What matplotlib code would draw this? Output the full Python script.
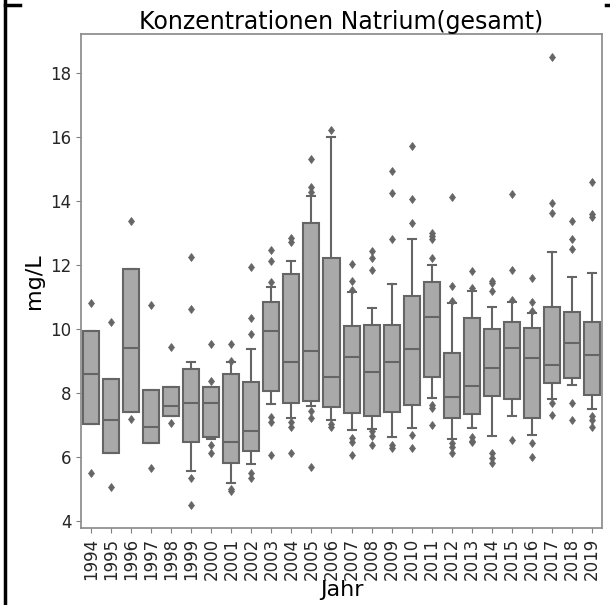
import matplotlib
matplotlib.use("Agg")
import matplotlib.pyplot as plt
from matplotlib.lines import Line2D

years = [str(y) for y in range(1994, 2020)]

# box statistics (mg/L)
q1 = [7.03, 6.12, 7.38, 6.42, 7.28, 6.47, 6.62, 5.81, 6.19, 8.05, 7.69, 7.74, 7.56,
      7.36, 7.28, 7.38, 7.61, 8.49, 7.22, 7.33, 7.90, 7.81, 7.22, 8.29, 8.45, 7.93]
med = [8.57, 7.13, 9.39, 6.94, 7.58, 7.67, 7.67, 6.47, 6.81, 9.94, 8.97, 9.31, 8.50,
       9.12, 8.64, 8.97, 9.36, 10.37, 7.87, 8.21, 8.78, 9.39, 9.09, 8.87, 9.54, 9.18]
q3 = [9.94, 8.42, 11.87, 8.07, 8.19, 8.75, 8.19, 8.57, 8.34, 10.82, 11.71, 13.31, 12.20,
      10.08, 10.12, 10.12, 11.02, 11.45, 9.23, 10.32, 9.98, 10.20, 10.01, 10.69, 10.53, 10.22]
whis_lo = [7.03, 6.12, 7.38, 6.42, 7.28, 5.55, 6.55, 5.17, 5.76, 7.65, 7.22, 7.58, 7.15,
           6.83, 6.86, 6.61, 6.89, 7.84, 6.54, 6.91, 6.65, 7.27, 6.68, 7.79, 8.24, 7.49]
whis_hi = [9.94, 8.42, 11.87, 8.07, 8.19, 8.95, 8.19, 8.95, 9.36, 11.29, 12.12, 14.16, 16.00,
           11.16, 10.64, 11.40, 12.79, 11.99, 10.79, 11.19, 10.67, 10.84, 10.48, 12.41, 11.62, 11.73]
outliers = [
    [10.81, 5.48],
    [10.21, 5.06],
    [13.38, 7.17],
    [10.73, 5.66],
    [9.42, 7.04],
    [12.25, 10.61, 5.32, 4.49],
    [9.52, 8.37, 6.37, 6.11],
    [9.52, 9.0, 5.0, 4.93],
    [9.82, 10.34, 11.92, 5.48, 5.32],
    [11.45, 12.12, 12.46, 7.25, 7.07, 6.05],
    [12.72, 12.82, 7.07, 6.92, 6.11],
    [14.28, 14.44, 15.30, 7.43, 7.20, 5.69],
    [16.21, 7.03, 6.94],
    [11.20, 11.49, 12.01, 6.57, 6.45, 6.05],
    [11.83, 12.20, 12.43, 6.80, 6.65, 6.37],
    [12.79, 14.25, 14.94, 6.37, 6.26],
    [13.31, 14.04, 15.71, 6.68, 6.26],
    [12.20, 12.79, 12.90, 13.00, 7.62, 7.51, 6.99],
    [10.85, 11.33, 14.12, 6.42, 6.30, 6.11],
    [11.26, 11.81, 6.60, 6.50, 6.45],
    [11.19, 11.44, 11.50, 6.11, 5.97, 5.79],
    [10.90, 11.83, 14.21, 6.52],
    [10.56, 10.84, 11.57, 6.42, 6.00],
    [13.61, 13.92, 18.48, 7.69, 7.30],
    [12.49, 12.79, 13.38, 7.67, 7.15],
    [13.50, 13.57, 14.59, 7.27, 7.15, 6.92],
]

stats = []
for i in range(len(years)):
    stats.append(dict(q1=q1[i], med=med[i], q3=q3[i], whislo=whis_lo[i],
                      whishi=whis_hi[i], fliers=outliers[i], label=years[i]))

fig = plt.figure(figsize=(6.1, 6.05), dpi=100)
ax = fig.add_axes([0.1328, 0.1273, 0.8541, 0.8165])

face = "#a9a9a9"
line = "#656565"
ax.bxp(stats, positions=range(len(years)), widths=0.8, patch_artist=True,
       boxprops=dict(facecolor=face, edgecolor=line, linewidth=1.5),
       medianprops=dict(color=line, linewidth=1.5),
       whiskerprops=dict(color=line, linewidth=1.5),
       capprops=dict(color=line, linewidth=1.5),
       flierprops=dict(marker="d", markersize=4.5, markerfacecolor=line,
                       markeredgecolor=line, markeredgewidth=0.5))

ax.set_xlim(-0.5, len(years) - 0.5)
ax.set_ylim(3.77, 19.21)
ax.set_yticks([4, 6, 8, 10, 12, 14, 16, 18])
ax.set_xticks(range(len(years)))
ax.set_xticklabels(years, rotation=90)
ax.tick_params(labelsize=12, colors="#262626")
ax.tick_params(color="#808080")
for s in ax.spines.values():
    s.set_color("#8c8c8c")
    s.set_linewidth(1.25)

ax.set_title("Konzentrationen Natrium(gesamt)", fontsize=17, pad=3)
ax.set_xlabel("Jahr", fontsize=16, labelpad=0)
ax.set_ylabel("mg/L", fontsize=16)

# frame marks at the picture's edge
fig.add_artist(Line2D([0.009, 0.009], [0.0, 1.0], color="black", linewidth=2.5,
                      transform=fig.transFigure))
fig.add_artist(Line2D([0.009, 0.033], [0.991, 0.991], color="black", linewidth=2.5,
                      transform=fig.transFigure))
fig.add_artist(Line2D([0.993, 1.0], [0.991, 0.991], color="black", linewidth=2.5,
                      transform=fig.transFigure))

fig.savefig("out.png", dpi=100)
